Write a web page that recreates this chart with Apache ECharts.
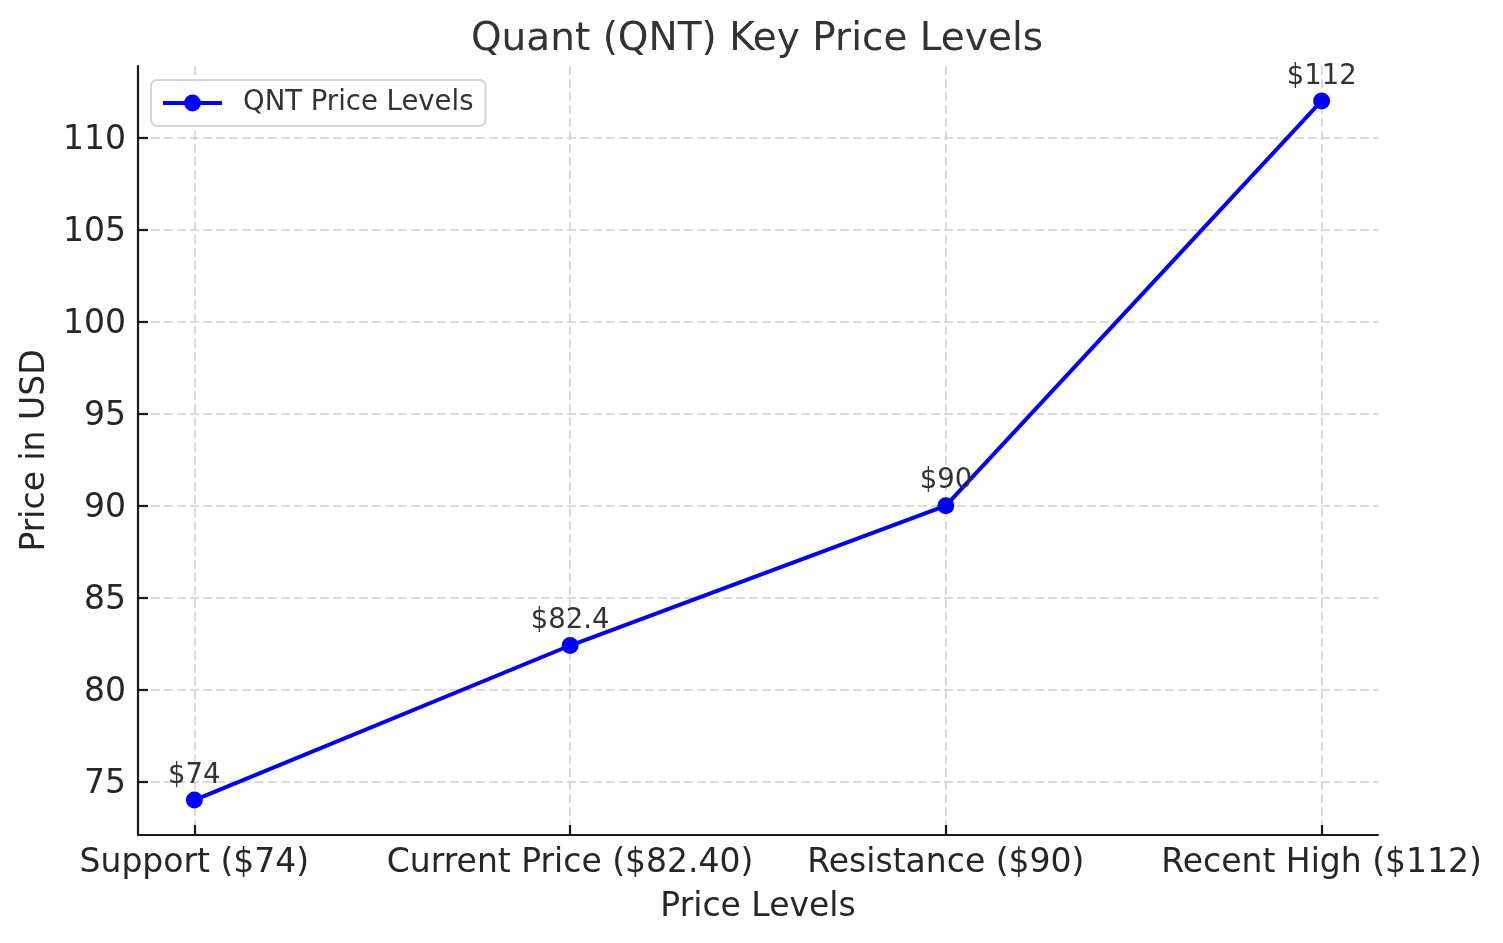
<!DOCTYPE html>
<html>
<head>
<meta charset="utf-8">
<script src="https://cdn.jsdelivr.net/npm/echarts@6/dist/echarts.min.js"></script>
<style>
html,body{margin:0;padding:0;background:#fff;}
#chart{width:1503px;height:943px;}
</style>
</head>
<body>
<div id="chart"></div>
<script>
const categories = ['Support ($74)', 'Current Price ($82.40)', 'Resistance ($90)', 'Recent High ($112)'];
const prices = [74, 82.4, 90, 112];
const priceLabels = ['$74', '$82.4', '$90', '$112'];
const yTicks = [75, 80, 85, 90, 95, 100, 105, 110];
const seriesName = 'QNT Price Levels';

const FONT = 'DejaVu Sans';
const lo = Math.min(...prices), hi = Math.max(...prices);
const yPad = (hi - lo) * 0.05;
const xPad = (categories.length - 1) * 0.05;
const xIdx = categories.map((c, i) => i);

const chart = echarts.init(document.getElementById('chart'), null, {renderer: 'canvas'});
chart.setOption({
  animation: false,
  backgroundColor: '#ffffff',
  title: {
    text: 'Quant (QNT) Key Price Levels',
    left: 752, top: 15, textAlign: 'center',
    textStyle: {fontFamily: FONT, fontSize: 39, fontWeight: 'normal', color: '#333333'}
  },
  legend: {
    data: [seriesName],
    left: 151, top: 80,
    padding: [9, 12, 9, 10],
    backgroundColor: '#ffffff',
    borderColor: '#d5d5d5', borderWidth: 2, borderRadius: 6,
    itemWidth: 59, itemHeight: 21,
    lineStyle: {width: 4},
    textStyle: {fontFamily: FONT, fontSize: 27.5, color: '#333333', padding: [2, 0, 0, 16]}
  },
  grid: {left: 138, right: 125, top: 66, bottom: 108, containLabel: false},
  xAxis: {
    type: 'value',
    min: -xPad, max: categories.length - 1 + xPad,
    name: 'Price Levels', nameLocation: 'middle', nameGap: 56,
    nameTextStyle: {fontFamily: FONT, fontSize: 33, color: '#262626'},
    axisLine: {show: true, onZero: false, lineStyle: {color: '#1a1a1a', width: 2.2}},
    axisTick: {show: true, inside: true, length: 10, customValues: xIdx, lineStyle: {color: '#1a1a1a', width: 2.2}},
    axisLabel: {
      customValues: xIdx, margin: 12,
      fontFamily: FONT, fontSize: 33, color: '#262626',
      formatter: v => categories[Math.round(v)]
    },
    splitLine: {show: true, lineStyle: {color: '#d0d0d0', width: 1.5, type: [9, 4]}}
  },
  yAxis: {
    type: 'value',
    min: lo - yPad, max: hi + yPad,
    name: 'Price in USD', nameLocation: 'middle', nameGap: 86,
    nameTextStyle: {fontFamily: FONT, fontSize: 33, color: '#262626'},
    axisLine: {show: true, onZero: false, lineStyle: {color: '#1a1a1a', width: 2.2}},
    axisTick: {show: true, inside: true, length: 10, customValues: yTicks, lineStyle: {color: '#1a1a1a', width: 2.2}},
    axisLabel: {
      customValues: yTicks, margin: 12,
      formatter: v => '{t|' + v + '}',
      rich: {t: {fontFamily: FONT, fontSize: 33, color: '#262626', padding: [6, 0, 0, 0]}}
    },
    splitLine: {show: true, lineStyle: {color: '#d0d0d0', width: 1.5, type: [9, 4]}}
  },
  series: [{
    name: seriesName,
    type: 'line',
    data: prices.map((p, i) => [i, p]),
    symbol: 'circle', symbolSize: 17,
    itemStyle: {color: '#0000ff'},
    lineStyle: {color: '#0000ff', width: 4},
    label: {
      show: true, position: 'top', distance: 2,
      fontFamily: FONT, fontSize: 27.5, color: '#333333',
      formatter: p => priceLabels[p.dataIndex]
    },
    z: 5
  }]
});
</script>
</body>
</html>
